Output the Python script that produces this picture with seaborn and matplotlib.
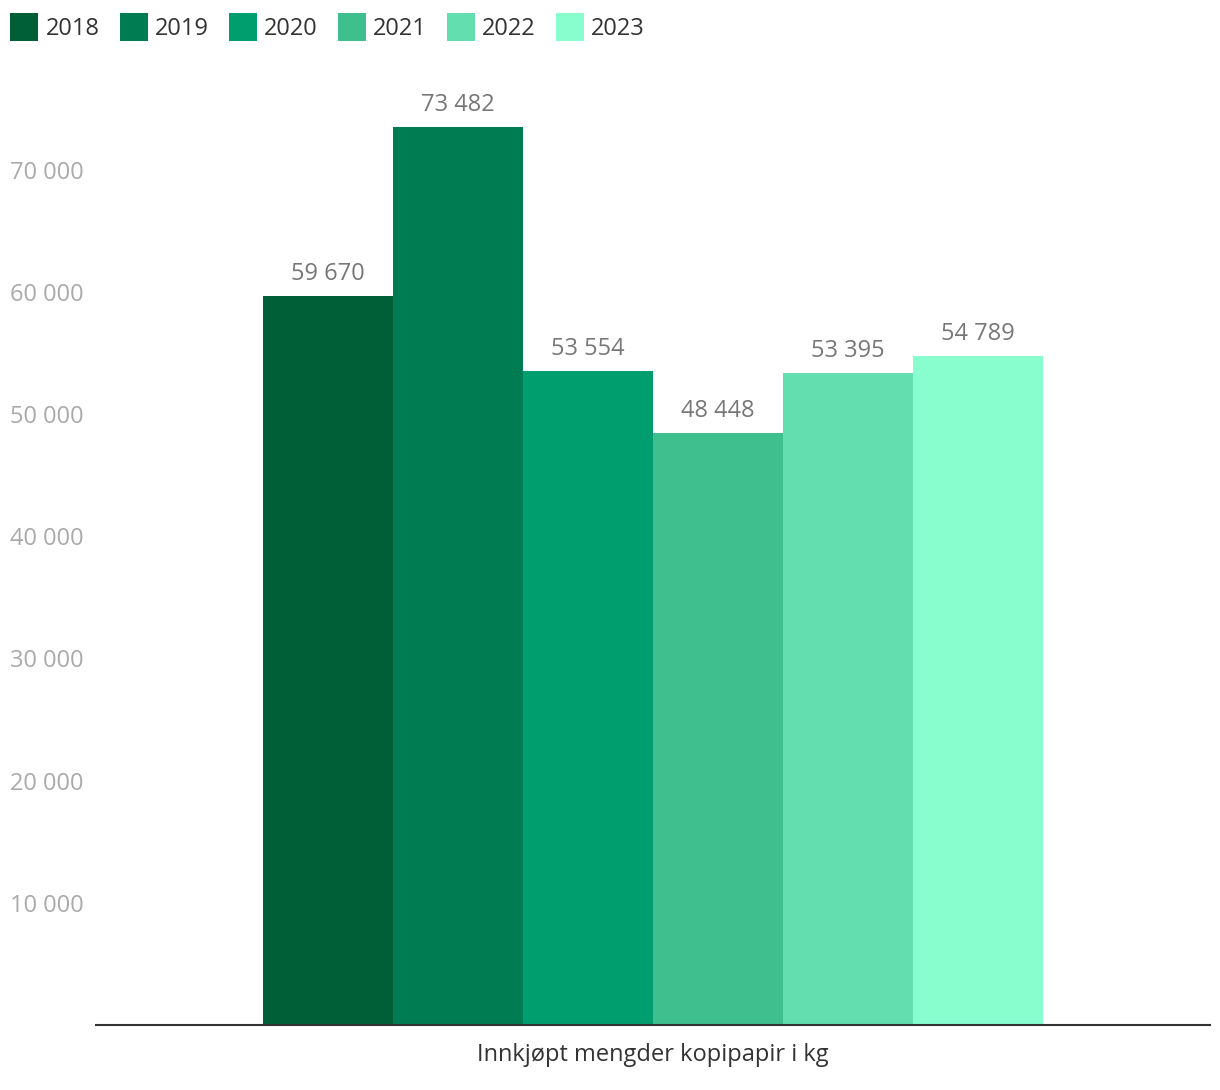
import matplotlib
matplotlib.use("Agg")
import matplotlib.pyplot as plt
import seaborn as sns
import pandas as pd
from matplotlib.patches import Patch
from matplotlib.ticker import FuncFormatter

years = ["2018", "2019", "2020", "2021", "2022", "2023"]
values = [59670, 73482, 53554, 48448, 53395, 54789]
colors = ["#005f37", "#007c53", "#009e6e", "#3fbe8e", "#63dfaf", "#88fecf"]
category = "Innkjøpt mengder kopipapir i kg"
yticks = [10000, 20000, 30000, 40000, 50000, 60000, 70000]

sns.set_theme(style="white")
plt.rcParams['font.family'] = ['Open Sans', 'DejaVu Sans']

df = pd.DataFrame({"cat": [category] * len(years), "year": years, "value": values})

fig = plt.figure(figsize=(12.2, 10.9), dpi=100)
ax = fig.add_axes([96 / 1220, 65 / 1090, (1210 - 96) / 1220, (1025 - 72) / 1090])

sns.barplot(data=df, x="cat", y="value", hue="year", palette=colors,
            width=0.7, gap=0, saturation=1, legend=False, ax=ax, errorbar=None)
for p in ax.patches:
    p.set_edgecolor("none")
    p.set_linewidth(0)

fmt = lambda v: f"{int(v):,}".replace(",", " ")
for cont in ax.containers:
    ax.bar_label(cont, labels=[fmt(v) for v in cont.datavalues], padding=7,
                 fontsize=17, color="#777777")

ax.set_xlim(-0.5, 0.5)
ax.set_ylim(0, 78000)
ax.set_yticks(yticks)
ax.yaxis.set_major_formatter(FuncFormatter(lambda v, p: fmt(v)))
ax.tick_params(axis="y", length=0, pad=62, labelsize=17, labelcolor="#aaaaaa")
for lab in ax.get_yticklabels():
    lab.set_horizontalalignment("left")
ax.tick_params(axis="x", length=0, pad=13, labelsize=17, labelcolor="#333333")
ax.set_xlabel("")
ax.set_ylabel("")
for s in ["left", "right", "top"]:
    ax.spines[s].set_visible(False)
ax.spines["bottom"].set_color("#333333")
ax.spines["bottom"].set_linewidth(1.5)
ax.grid(False)

handles = [Patch(facecolor=c, edgecolor="none", label=y) for c, y in zip(colors, years)]
fig.legend(handles=handles, loc="upper left", bbox_to_anchor=(2 / 1220, 1 - 5 / 1090), ncol=6,
           frameon=False, fontsize=17, labelcolor="#333333",
           handlelength=1.19, handleheight=1.45, handletextpad=0.3, columnspacing=0.85,
           borderaxespad=0, borderpad=0.35)

fig.savefig("out.png", dpi=100)
